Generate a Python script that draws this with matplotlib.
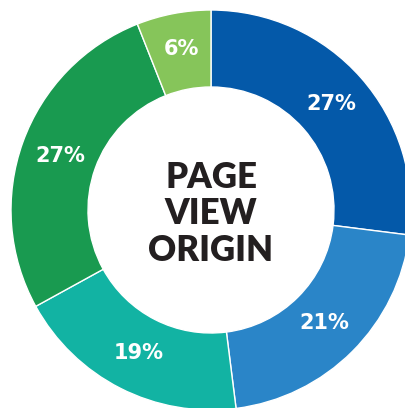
import matplotlib.pyplot as plt

# page view origin shares, clockwise from 12 o'clock
labels = ['27%', '21%', '19%', '27%', '6%']
shares = [27, 21, 19, 27, 6]
colors = ['#0459A9', '#2A85C8', '#12B3A3', '#199A50', '#86C55A']
center_text = 'PAGE\nVIEW\nORIGIN'

fig = plt.figure(figsize=(4.05, 4.08), dpi=100)
ax = fig.add_axes([0, 0, 1, 1])

wedges, texts = ax.pie(
    shares, colors=colors, labels=labels, startangle=90, counterclock=False,
    radius=1.0, labeldistance=0.8,
    wedgeprops=dict(width=0.385, edgecolor='white', linewidth=1),
    textprops=dict(color='white', fontsize=15, fontweight='bold',
                   ha='center', va='center', family='DejaVu Sans'),
)
texts[-1].set_y(texts[-1].get_position()[1] + 0.02)

ax.text(0, -0.02, center_text, ha='center', va='center', fontsize=25,
        fontweight='heavy', color='#231F20', linespacing=1.12,
        family=['Lato', 'DejaVu Sans'])

# ring centre sits at (211, 210) px, radius 200 px; right and bottom are cropped
ax.set_xlim(-211 / 200, (405 - 211) / 200)
ax.set_ylim(-(408 - 210) / 200, 210 / 200)
ax.set_aspect('auto')
ax.axis('off')

fig.savefig('out.png', dpi=100, facecolor='white')
